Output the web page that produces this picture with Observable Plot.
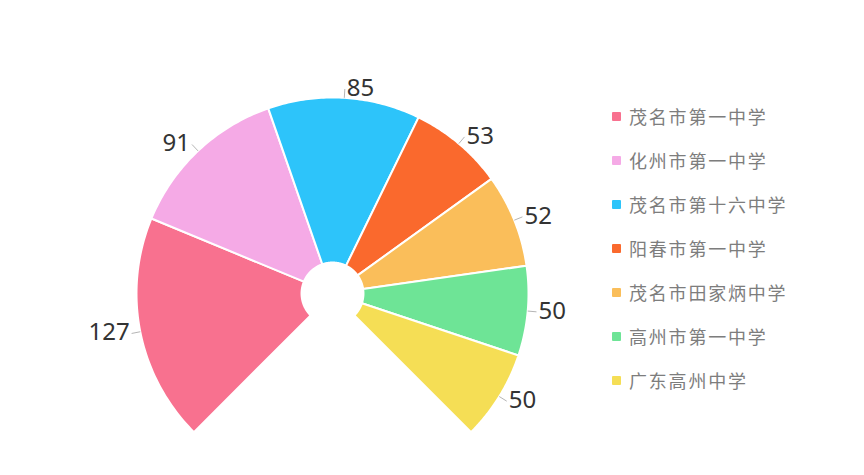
<!DOCTYPE html>
<html>
<head>
<meta charset="utf-8">
<script src="https://cdn.jsdelivr.net/npm/d3@7"></script>
<script src="https://cdn.jsdelivr.net/npm/@observablehq/plot@0.6"></script>
<style>
  html, body { margin: 0; padding: 0; background: #fff; }
  #wrap { position: relative; width: 864px; height: 475px; overflow: hidden; }
  #legend { position: absolute; left: 612px; top: 94px; font-family: "Noto Sans CJK SC", "Noto Sans", sans-serif; }
  .row { display: flex; align-items: center; height: 44px; }
  .sw { width: 9px; height: 9px; border-radius: 1px; margin-right: 8px; }
  .lab { font-size: 18px; letter-spacing: 1.8px; color: #7d7d7d; line-height: 1; }
</style>
</head>
<body>
<div id="wrap"><div id="chart"></div><div id="legend"></div></div>
<script>
const schools = ["茂名市第一中学", "化州市第一中学", "茂名市第十六中学", "阳春市第一中学", "茂名市田家炳中学", "高州市第一中学", "广东高州中学"];
const counts = [127, 91, 85, 53, 52, 50, 50];
const colors = ["#f8718f", "#f5aae6", "#2dc4fa", "#fa692d", "#fabe5a", "#6ee496", "#f5de55"];

const innerR = 0.158;
const arcs = d3.pie().sort(null).startAngle(-3 * Math.PI / 4).endAngle(3 * Math.PI / 4)(counts);

// polygon points for each sector
const pts = [];
arcs.forEach((a, i) => {
  const n = 60;
  for (let k = 0; k <= n; k++) {
    const t = a.startAngle + (a.endAngle - a.startAngle) * k / n;
    pts.push({name: schools[i], x: Math.sin(t), y: Math.cos(t)});
  }
  for (let k = n; k >= 0; k--) {
    const t = a.startAngle + (a.endAngle - a.startAngle) * k / n;
    pts.push({name: schools[i], x: innerR * Math.sin(t), y: innerR * Math.cos(t)});
  }
});

const labels = arcs.map((a, i) => {
  const m = (a.startAngle + a.endAngle) / 2;
  return {
    name: schools[i], value: counts[i],
    x1: Math.sin(m), y1: Math.cos(m),
    x2: 1.045 * Math.sin(m), y2: 1.045 * Math.cos(m)
  };
});

const chart = Plot.plot({
  width: 864,
  height: 475,
  x: {domain: [-1, 1], range: [136, 528], axis: null},
  y: {domain: [-1, 1], range: [489, 97], axis: null},
  color: {type: "ordinal", domain: schools, range: colors},
  style: {background: "#fff", overflow: "visible"},
  marks: [
    Plot.line(pts, {x: "x", y: "y", z: "name", fill: "name", stroke: "#fff", strokeWidth: 2, curve: "linear-closed"}),
    Plot.link(labels, {x1: "x1", y1: "y1", x2: "x2", y2: "y2", stroke: "#b5b5b5", strokeWidth: 1}),
    Plot.text(labels.filter(d => d.x2 < 0), {x: "x2", y: "y2", text: "value", textAnchor: "end", dx: -2, dy: -1, fontSize: 24, fill: "#333", fontFamily: "Noto Sans, sans-serif"}),
    Plot.text(labels.filter(d => d.x2 >= 0), {x: "x2", y: "y2", text: "value", textAnchor: "start", dx: 2, dy: -1, fontSize: 24, fill: "#333", fontFamily: "Noto Sans, sans-serif"})
  ]
});
document.getElementById("chart").appendChild(chart);

const legend = d3.select("#legend");
schools.forEach((s, i) => {
  const row = legend.append("div").attr("class", "row");
  row.append("div").attr("class", "sw").style("background", colors[i]);
  row.append("div").attr("class", "lab").text(s);
});
</script>
</body>
</html>
